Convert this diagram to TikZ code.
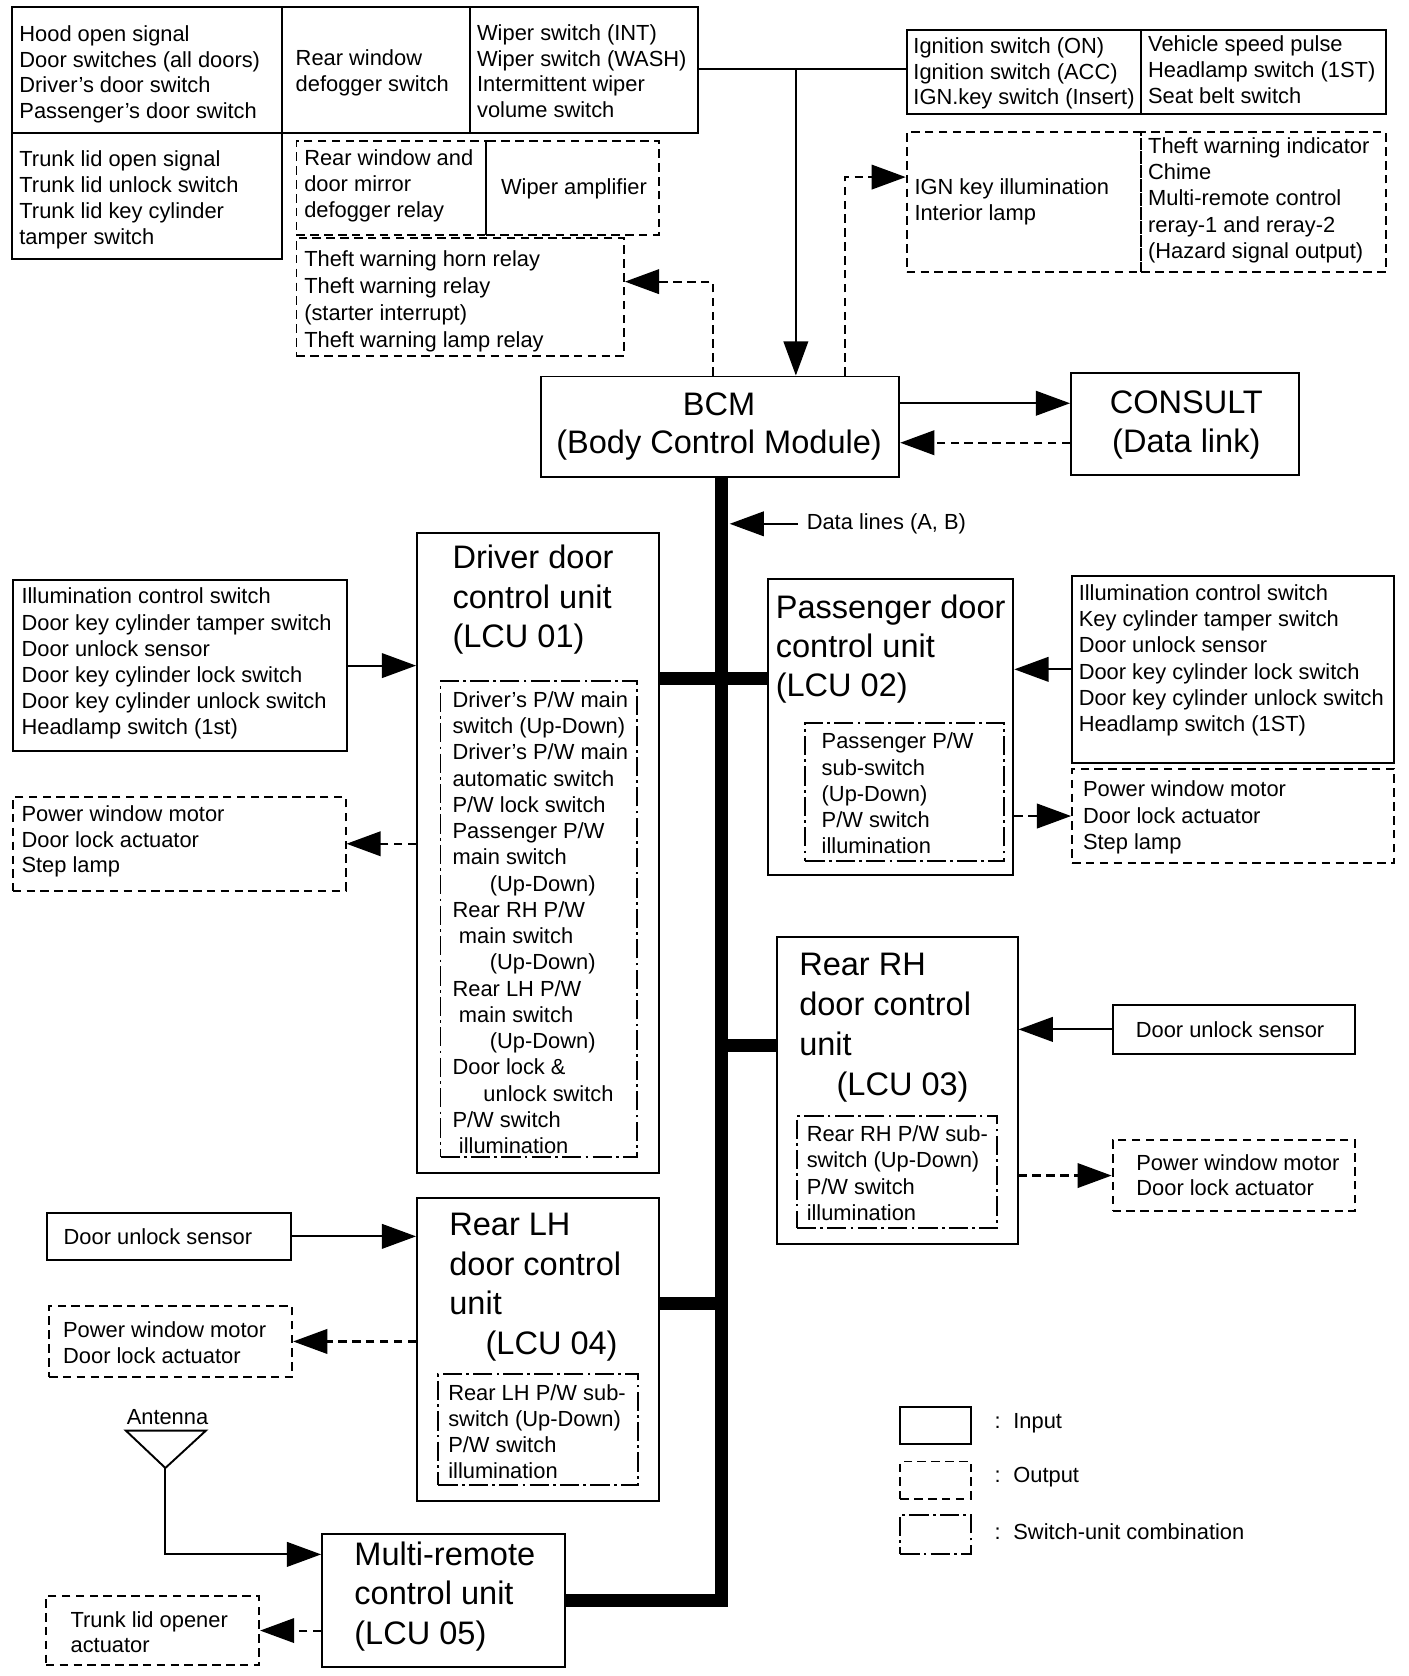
\documentclass[tikz,border=0pt]{standalone}
\usepackage{fontspec}
\setmainfont{Liberation Sans}
\usetikzlibrary{arrows.meta,calc}
\tikzset{
 sbox/.style={draw, line width=1.8pt, inner sep=0pt, anchor=north west},
 inbox/.style={sbox},
 outbox/.style={sbox, dash pattern=on 8pt off 5pt},
 ddbox/.style={sbox, dash pattern=on 18pt off 4pt on 2.5pt off 4pt},
 txt/.style={inner sep=0pt, anchor=north west, align=left, font=\fontsize{20.5}{24.5}\selectfont},
 bigtxt/.style={inner sep=0pt, anchor=north west, align=left, font=\fontsize{30.5}{37}\selectfont},
 conn/.style={line width=2pt, -{Triangle[length=32pt,width=23pt]}},
 dconn/.style={conn, dash pattern=on 8pt off 5pt},
 bus/.style={line width=12pt},
}
\begin{document}
\begin{tikzpicture}[x=1pt,y=-1pt]
\useasboundingbox (0,0) rectangle (1320,1571);
% top-left input grid
\node[inbox, minimum width=253pt, minimum height=118pt] (a) at (10,6) {};
\node[txt, font=\fontsize{20.5}{24}\selectfont] (at) at (18,24) {Hood open signal\\Door switches (all doors)\\Driver's door switch\\Passenger's door switch};
\node[inbox, minimum width=177pt, minimum height=118pt] (b) at (263,6) {};
\node[txt, font=\fontsize{20.5}{25}\selectfont] (bt) at (277,46) {Rear window\\defogger switch};
\node[inbox, minimum width=213pt, minimum height=118pt] (c) at (440,6) {};
\node[txt, font=\fontsize{20.5}{24}\selectfont] (ct) at (447,23) {Wiper switch (INT)\\Wiper switch (WASH)\\Intermittent wiper\\volume switch};
\node[inbox, minimum width=253pt, minimum height=118pt] (d) at (10,124) {};
\node[txt] (dt) at (18,141) {Trunk lid open signal\\Trunk lid unlock switch\\Trunk lid key cylinder\\tamper switch};
% top-left outputs
\node[outbox, minimum width=178pt, minimum height=88pt] (e) at (277,131) {};
\node[txt] (et) at (285,140) {Rear window and\\door mirror\\defogger relay};
\node[outbox, minimum width=162pt, minimum height=88pt] (f) at (455,131) {};
\node[txt, anchor=center] (ft) at (538,177) {Wiper amplifier};
\node[outbox, minimum width=307pt, minimum height=111pt] (g) at (277,222) {};
\node[txt, font=\fontsize{20.5}{25.3}\selectfont] (gt) at (285,235) {Theft warning horn relay\\Theft warning relay\\(starter interrupt)\\Theft warning lamp relay};
% top-right inputs
\node[inbox, minimum width=220pt, minimum height=79pt] (h) at (849,27) {};
\node[txt, font=\fontsize{20.5}{24}\selectfont] (ht) at (856,35) {Ignition switch (ON)\\Ignition switch (ACC)\\IGN.key switch (Insert)};
\node[inbox, minimum width=229pt, minimum height=79pt] (i) at (1069,27) {};
\node[txt, font=\fontsize{20.5}{24.5}\selectfont] (it) at (1076,33) {Vehicle speed pulse\\Headlamp switch (1ST)\\Seat belt switch};
% top-right outputs
\node[outbox, minimum width=220pt, minimum height=131pt] (j) at (849,123) {};
\node[txt, font=\fontsize{20.5}{25}\selectfont] (jt) at (857,167) {IGN key illumination\\Interior lamp};
\node[outbox, minimum width=229pt, minimum height=131pt] (k) at (1069,123) {};
\node[txt] (kt) at (1076,129) {Theft warning indicator\\Chime\\Multi-remote control\\reray-1 and reray-2\\(Hazard signal output)};
% BCM and CONSULT
\node[inbox, minimum width=336pt, minimum height=94pt] (bcm) at (506,352) {};
\node[bigtxt, anchor=north, align=center, font=\fontsize{30.5}{36}\selectfont] (bcmt) at (674,368) {BCM\\(Body Control Module)};
\node[inbox, minimum width=214pt, minimum height=95pt] (consult) at (1003,349) {};
\node[bigtxt, anchor=north, align=center] (consultt) at (1112,366) {CONSULT\\(Data link)};
% bus
\draw[bus] (529,1500) -| (bcm.south -| 676,0);
\node[txt, anchor=west] (dl) at (756,491) {Data lines (A, B)};
\draw[conn] ([xshift=-8pt]dl.west) -- (684,491);
% Driver door unit
\node[inbox, minimum width=227pt, minimum height=600pt] (l1) at (390,499) {};
\node[bigtxt] (l1t) at (424,511) {Driver door\\control unit\\(LCU 01)};
\node[ddbox, minimum width=184pt, minimum height=447pt] (l1s) at (412,637) {};
\node[txt, font=\fontsize{20.5}{24.6}\selectfont] (l1st) at (424,648) {Driver's P/W main\\switch (Up-Down)\\Driver's P/W main\\automatic switch\\P/W lock switch\\Passenger P/W\\main switch\\\hspace*{35pt}(Up-Down)\\Rear RH P/W\\\hspace*{6pt}main switch\\\hspace*{35pt}(Up-Down)\\Rear LH P/W\\\hspace*{6pt}main switch\\\hspace*{35pt}(Up-Down)\\Door lock \&\\\hspace*{29pt}unlock switch\\P/W switch\\\hspace*{6pt}illumination};
\node[inbox, minimum width=313pt, minimum height=160pt] (m) at (11,543) {};
\node[txt] (mt) at (20,551) {Illumination control switch\\Door key cylinder tamper switch\\Door unlock sensor\\Door key cylinder lock switch\\Door key cylinder unlock switch\\Headlamp switch (1st)};
\node[outbox, minimum width=312pt, minimum height=88pt] (n) at (11,746) {};
\node[txt, font=\fontsize{20.5}{24}\selectfont] (nt) at (20,755) {Power window motor\\Door lock actuator\\Step lamp};
% Passenger door unit
\node[inbox, minimum width=230pt, minimum height=277pt] (l2) at (719,542) {};
\node[bigtxt] (l2t) at (727,557) {Passenger door\\control unit\\(LCU 02)};
\node[ddbox, minimum width=186pt, minimum height=129pt] (l2s) at (754,677) {};
\node[txt] (l2st) at (770,687) {Passenger P/W\\sub-switch\\(Up-Down)\\P/W switch\\illumination};
\node[inbox, minimum width=302pt, minimum height=175pt] (o) at (1004,539) {};
\node[txt] (ot) at (1011,548) {Illumination control switch\\Key cylinder tamper switch\\Door unlock sensor\\Door key cylinder lock switch\\Door key cylinder unlock switch\\Headlamp switch (1ST)};
\node[outbox, minimum width=302pt, minimum height=88pt] (p) at (1004,720) {};
\node[txt] (pt) at (1015,732) {Power window motor\\Door lock actuator\\Step lamp};
% Rear RH unit
\node[inbox, minimum width=226pt, minimum height=288pt] (l3) at (727,877) {};
\node[bigtxt, font=\fontsize{30.5}{37.7}\selectfont] (l3t) at (749,893) {Rear RH\\door control\\unit\\\hspace*{35pt}(LCU 03)};
\node[ddbox, minimum width=188pt, minimum height=105pt] (l3s) at (746,1045) {};
\node[txt, font=\fontsize{20.5}{24.7}\selectfont] (l3st) at (756,1055) {Rear RH P/W sub-\\switch (Up-Down)\\P/W switch\\illumination};
\node[inbox, minimum width=227pt, minimum height=46pt] (q) at (1042,941) {};
\node[txt, anchor=center] (qt) at (1153,965) {Door unlock sensor};
\node[outbox, minimum width=227pt, minimum height=66pt] (r) at (1042,1068) {};
\node[txt, font=\fontsize{20.5}{24}\selectfont] (rt) at (1065,1082) {Power window motor\\Door lock actuator};
% Rear LH unit
\node[inbox, minimum width=227pt, minimum height=284pt] (l4) at (390,1122) {};
\node[bigtxt] (l4t) at (421,1137) {Rear LH\\door control\\unit\\\hspace*{34pt}(LCU 04)};
\node[ddbox, minimum width=187pt, minimum height=104pt] (l4s) at (410,1287) {};
\node[txt, font=\fontsize{20.5}{24.3}\selectfont] (l4st) at (420,1298) {Rear LH P/W sub-\\switch (Up-Down)\\P/W switch\\illumination};
\node[inbox, minimum width=229pt, minimum height=44pt] (s) at (43,1136) {};
\node[txt, anchor=center] (st) at (148,1159) {Door unlock sensor};
\node[outbox, minimum width=228pt, minimum height=67pt] (t) at (45,1223) {};
\node[txt, font=\fontsize{20.5}{24}\selectfont] (tt) at (59,1239) {Power window motor\\Door lock actuator};
% Multi-remote control unit
\node[inbox, minimum width=228pt, minimum height=125pt] (l5) at (301,1437) {};
\node[bigtxt] (l5t) at (332,1445) {Multi-remote\\control unit\\(LCU 05)};
\node[outbox, minimum width=200pt, minimum height=65pt] (u) at (42,1495) {};
\node[txt, font=\fontsize{20.5}{24}\selectfont] (ut) at (66,1510) {Trunk lid opener\\actuator};
% antenna
\node[txt, anchor=center] (antt) at (157,1328) {Antenna};
\draw[line width=1.8pt, line join=miter] (118,1341) -- (193,1341) -- (155,1376) -- cycle;
\coordinate (apex) at (155,1376);
% legend
\node[inbox, minimum width=66pt, minimum height=35pt] (lg1) at (843,1318) {};
\node[txt, anchor=west] (lg1t) at (932,1334) {:\hspace{12pt}Input};
\node[outbox, minimum width=66pt, minimum height=35pt] (lg2) at (843,1369) {};
\node[txt, anchor=west] (lg2t) at (932,1385) {:\hspace{12pt}Output};
\node[ddbox, minimum width=66pt, minimum height=37pt] (lg3) at (843,1419) {};
\node[txt, anchor=west] (lg3t) at (932,1436) {:\hspace{12pt}Switch-unit combination};
% thick bus stubs
\draw[bus] (l1.east |- 0,636) -- (l2.west |- 0,636);
\draw[bus] (676,980) -- (l3.west |- 0,980);
\draw[bus] (l4.east |- 0,1222) -- (676,1222);
% top connectors
\coordinate (jn) at (746,65);
\draw[line width=2pt] (c.east |- jn) -- (h.west |- jn);
\draw[conn] (jn) -- (jn |- bcm.north);
\draw[dconn] (bcm.north -| 668,0) |- (g.east |- 0,264);
\draw[dconn] (bcm.north -| 792,0) |- (j.west |- 0,166);
\draw[conn] (bcm.east |- 0,378) -- (consult.west |- 0,378);
\draw[dconn] (consult.west |- 0,415) -- (bcm.east |- 0,415);
% unit connectors
\draw[conn] (m.east) -- (m.east -| l1.west);
\draw[dconn] (l1.west |- n.east) -- (n.east);
\draw[conn] (o.west) -- (o.west -| l2.east);
\draw[dconn] (l2.east |- p.west) -- (p.west);
\draw[conn] (q.west) -- (q.west -| l3.east);
\draw[dconn] (l3.east |- r.west) -- (r.west);
\draw[conn] (s.east) -- (s.east -| l4.west);
\draw[dconn] (l4.west |- t.east) -- (t.east);
\draw[conn] (apex) |- (l5.west |- 0,1457);
\draw[dconn] (l5.west |- u.east) -- (u.east);
\end{tikzpicture}
\end{document}
